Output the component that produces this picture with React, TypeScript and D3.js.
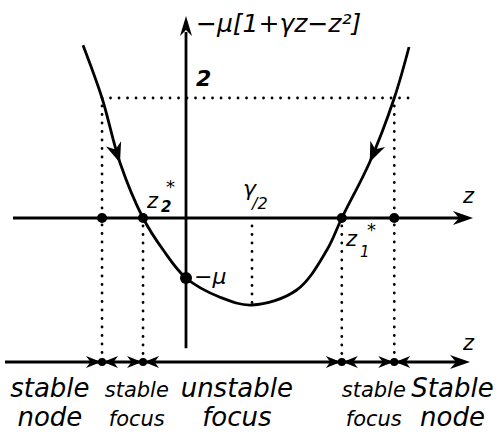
import React from "react";
import * as d3 from "d3";

// parabola -mu[1 + gamma z - z^2] (z, value)
const curveZ = [-1.256, -1.024, -0.805, -0.524, -0.28, 0, 0.415, 0.805, 1.35, 1.72, 1.9, 2.24, 2.54, 2.72];
const curveF = [2.88, 2.0, 0.92, 0, -0.53, -1.0, -1.32, -1.45, -1.2, -0.53, 0, 0.93, 2.0, 2.85];

// fixed points on the z axis and the level they are read from
const fixedZ = [-1.024, -0.524, 1.9, 2.54];
const fixedFrom = [2, 0, 0, 2];
const levelTwo = 2;
const muValue = -1;
const gammaHalf = 0.805;
const minValue = -1.45;

const labelTop = ["stable", "stable", "unstable", "stable", "Stable"];
const labelBottom = ["node", "focus", "focus", "focus", "node"];
const labelZ = [-1.66, -0.6, 0.62, 2.29, 3.25];
const labelSize = [26, 21, 26, 21, 26];

const W = 504;
const H = 436;
const font = "'DejaVu Sans', sans-serif";

const x = d3.scaleLinear().domain([0, 1]).range([186, 268]);
const y = d3.scaleLinear().domain([0, 1]).range([218, 158]);

const bottomAxisF = -2.4;

const arrowHead = (tx: number, ty: number, dx: number, dy: number, len = 16, half = 6) => {
  const n = Math.hypot(dx, dy);
  const ux = dx / n, uy = dy / n;
  const px = -uy, py = ux;
  const bx = tx - ux * len, by = ty - uy * len;
  const nx = tx - ux * len * 0.7, ny = ty - uy * len * 0.7;
  return `M${tx},${ty}L${bx + px * half},${by + py * half}L${nx},${ny}L${bx - px * half},${by - py * half}Z`;
};

export default function App() {
  const pts: [number, number][] = curveZ.map((z, i) => [x(z), y(curveF[i])]);
  const line = d3.line().curve(d3.curveCatmullRom.alpha(0.5))(pts) || "";

  const yAxis0 = y(0);
  const yBottom = y(bottomAxisF);
  const dotted = { stroke: "#000", strokeWidth: 2.8, strokeDasharray: "0 8.5", strokeLinecap: "round" as const };

  const la = pts[2], lb = pts[1], lc = pts[3];
  const ra = pts[11], rb = pts[12], rc = pts[10];

  return (
    <svg width={W} height={H} style={{ position: "absolute", left: 0, top: 0, background: "#fff" }}>
      <g fill="none" stroke="#000">
        {/* dotted guides */}
        <line x1={x(fixedZ[0])} x2={x(fixedZ[3]) + 14} y1={y(levelTwo)} y2={y(levelTwo)} {...dotted} />
        {fixedZ.map((z, i) => (
          <line key={i} x1={x(z)} x2={x(z)} y1={y(fixedFrom[i]) + 8} y2={yBottom - 8} {...dotted} />
        ))}
        <line x1={x(gammaHalf)} x2={x(gammaHalf)} y1={yAxis0 + 8} y2={y(minValue)} {...dotted} />

        {/* axes */}
        <line x1={13} x2={x(3.4)} y1={yAxis0} y2={yAxis0} strokeWidth={2.8} />
        <line x1={x(0)} x2={x(0)} y1={y(3.1)} y2={y(-2.17)} strokeWidth={2.8} />
        <line x1={5} x2={462} y1={yBottom} y2={yBottom} strokeWidth={2.8} />

        {/* parabola */}
        <path d={line} strokeWidth={2.8} />
      </g>

      <g fill="#000">
        <path d={arrowHead(473, yAxis0, 1, 0, 20, 7)} />
        <path d={arrowHead(x(0), 16, 0, -1, 20, 6)} />
        <path d={arrowHead(470, yBottom, 1, 0, 20, 7)} />
        <path d={arrowHead(la[0], la[1], lc[0] - lb[0], lc[1] - lb[1], 20, 8)} />
        <path d={arrowHead(ra[0], ra[1], rc[0] - rb[0], rc[1] - rb[1], 20, 8)} />

        {fixedZ.map((z, i) => (
          <g key={i}>
            <circle cx={x(z)} cy={yAxis0} r={5} />
            <circle cx={x(z)} cy={yBottom} r={4} />
            <path d={arrowHead(x(z) - 1, yBottom, 1, 0, 15, 6)} />
            <path d={arrowHead(x(z) + 1, yBottom, -1, 0, 15, 6)} />
          </g>
        ))}
        <circle cx={x(0)} cy={y(muValue)} r={6} />
      </g>

      <g fontFamily={font} fontStyle="italic" fill="#000">
        <text x={196} y={32} fontSize={25}>−μ[1+γz−z²]</text>
        <text x={196} y={86} fontSize={22} fontWeight="bold">2</text>
        <text x={147} y={208} fontSize={21}>z</text>
        <text x={161} y={212} fontSize={15} fontWeight="bold">2</text>
        <text x={166} y={193} fontSize={18}>*</text>
        <text x={243} y={196} fontSize={22}>γ</text>
        <text x={252} y={209} fontSize={16}>/2</text>
        <text x={346} y={246} fontSize={21}>z</text>
        <text x={360} y={257} fontSize={15}>1</text>
        <text x={367} y={236} fontSize={18}>*</text>
        <text x={194} y={284} fontSize={22}>−μ</text>
        <text x={463} y={203} fontSize={21}>z</text>
        <text x={463} y={350} fontSize={21}>z</text>
        {labelTop.map((t, i) => (
          <g key={i} textAnchor="middle" fontSize={labelSize[i]}>
            <text x={x(labelZ[i])} y={397}>{t}</text>
            <text x={x(labelZ[i])} y={426}>{labelBottom[i]}</text>
          </g>
        ))}
      </g>
    </svg>
  );
}
